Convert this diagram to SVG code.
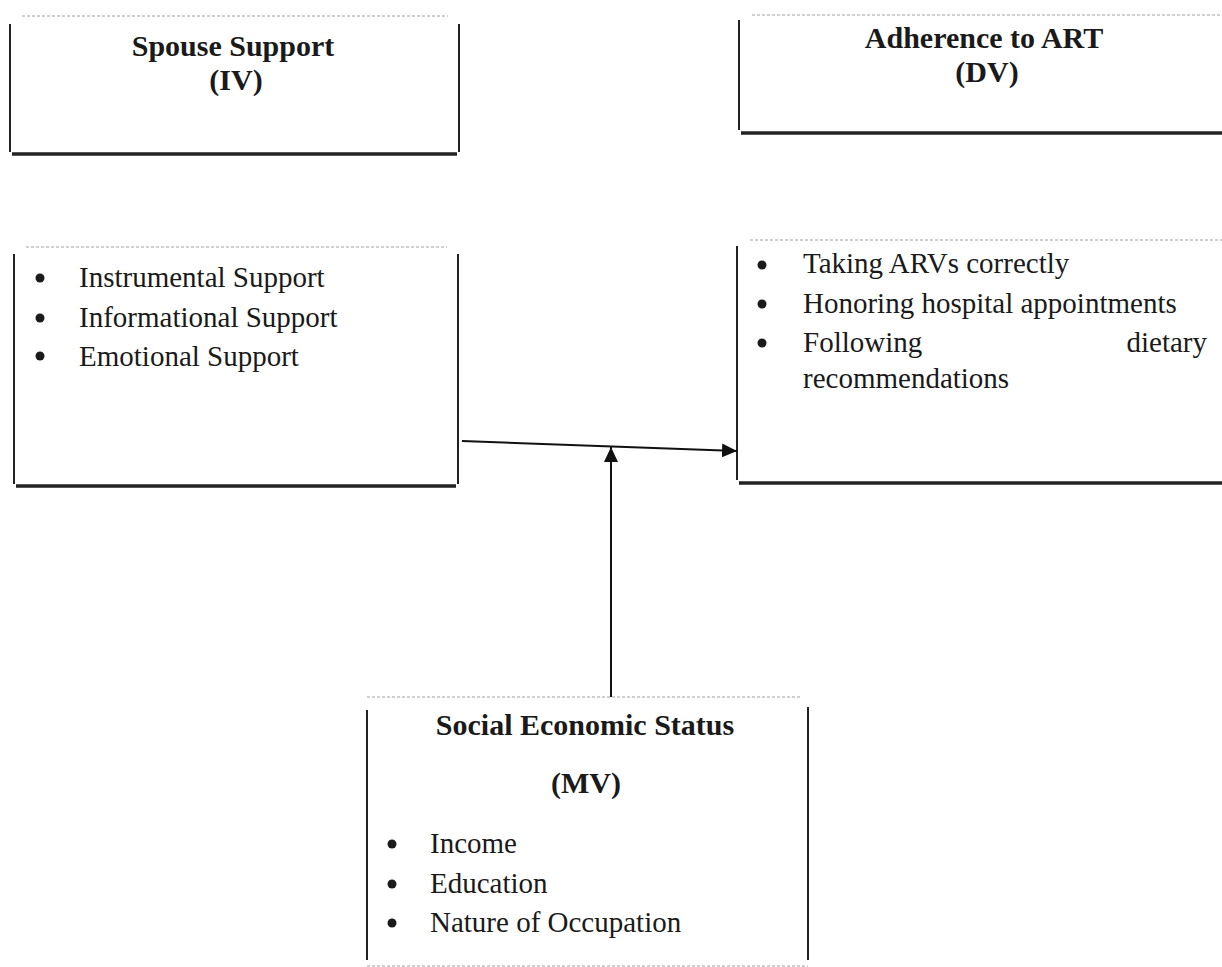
<svg xmlns="http://www.w3.org/2000/svg" width="1222" height="967" viewBox="0 0 1222 967">
<style>
.t{font-family:"Liberation Serif","Times New Roman",serif;fill:#1a1a1a}
.b{font-weight:bold;font-size:30px;text-anchor:middle}
.r{font-size:29px}
.side{stroke:#222;stroke-width:2;fill:none}
.top{stroke:#a0a0a0;stroke-width:1;stroke-dasharray:3 2;fill:none}
.bot{stroke:#222;stroke-width:3.5;fill:none}
.dot{fill:#1a1a1a}
.con{stroke:#111;stroke-width:2;fill:none}
</style>
<defs>
<marker id="ah" viewBox="0 0 15 14" refX="15" refY="7" markerWidth="15" markerHeight="14" markerUnits="userSpaceOnUse" orient="auto">
<path d="M0,0 L15,7 L0,14 z" fill="#111"/>
</marker>
</defs>
<rect width="1222" height="967" fill="#fff"/>

<g id="spouse-support">
<line class="top" x1="22" y1="16" x2="448" y2="16"/>
<line class="side" x1="10" y1="24" x2="10" y2="152"/>
<line class="side" x1="459" y1="24" x2="459" y2="152"/>
<line class="bot" x1="12" y1="154" x2="457" y2="154"/>
<text class="t b" x="233" y="56">Spouse Support</text>
<text class="t b" x="236" y="90">(IV)</text>
</g>

<g id="adherence-art">
<line class="top" x1="752" y1="15" x2="1222" y2="15"/>
<line class="side" x1="739" y1="20" x2="739" y2="130"/>
<line class="bot" x1="741" y1="133" x2="1222" y2="133"/>
<text class="t b" x="984" y="48">Adherence to ART</text>
<text class="t b" x="987" y="82">(DV)</text>
</g>

<g id="spouse-items">
<line class="top" x1="26" y1="247" x2="447" y2="247"/>
<line class="side" x1="14" y1="254" x2="14" y2="484"/>
<line class="side" x1="458" y1="254" x2="458" y2="484"/>
<line class="bot" x1="16" y1="486" x2="456" y2="486"/>
<circle class="dot" cx="40" cy="278" r="4.5"/>
<circle class="dot" cx="40" cy="318" r="4.5"/>
<circle class="dot" cx="40" cy="356" r="4.5"/>
<text class="t r" x="79" y="287">Instrumental Support</text>
<text class="t r" x="79" y="327">Informational Support</text>
<text class="t r" x="79" y="366">Emotional Support</text>
</g>

<g id="adherence-items">
<line class="top" x1="750" y1="240" x2="1222" y2="240"/>
<line class="side" x1="737" y1="246" x2="737" y2="480"/>
<line class="bot" x1="739" y1="483" x2="1222" y2="483"/>
<circle class="dot" cx="762" cy="265" r="4.5"/>
<circle class="dot" cx="762" cy="304" r="4.5"/>
<circle class="dot" cx="762" cy="343" r="4.5"/>
<text class="t r" x="803" y="273">Taking ARVs correctly</text>
<text class="t r" x="803" y="313">Honoring hospital appointments</text>
<text class="t r" x="803" y="352">Following</text>
<text class="t r" x="1207" y="352" text-anchor="end">dietary</text>
<text class="t r" x="803" y="388">recommendations</text>
</g>

<g id="ses">
<line class="top" x1="367" y1="697" x2="800" y2="697"/>
<line class="side" x1="367" y1="710" x2="367" y2="960"/>
<line class="side" x1="808" y1="707" x2="808" y2="960"/>
<line class="top" x1="367" y1="966" x2="808" y2="966" stroke="#d0d0d0"/>
<text class="t b" x="585" y="735">Social Economic Status</text>
<text class="t b" x="586" y="793">(MV)</text>
<circle class="dot" cx="392" cy="844" r="4.5"/>
<circle class="dot" cx="392" cy="884" r="4.5"/>
<circle class="dot" cx="392" cy="923" r="4.5"/>
<text class="t r" x="430" y="853">Income</text>
<text class="t r" x="430" y="893">Education</text>
<text class="t r" x="430" y="932">Nature of Occupation</text>
</g>

<g id="connectors">
<line class="con" x1="462" y1="441" x2="737" y2="451" marker-end="url(#ah)"/>
<line class="con" x1="611" y1="697" x2="611" y2="447" marker-end="url(#ah)"/>
</g>
</svg>
